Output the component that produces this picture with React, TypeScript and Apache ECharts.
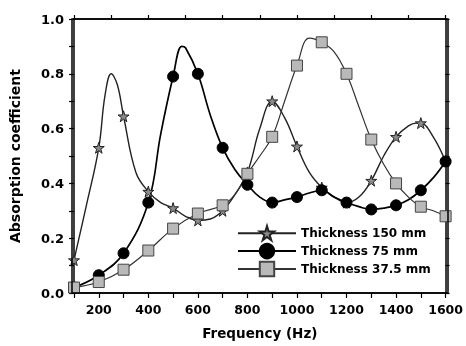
import React, { useEffect, useRef } from "react";
import * as echarts from "echarts";

// Frequency (Hz) and absorption coefficient
const freq150 = [100, 150, 200, 225, 250, 275, 300, 350, 400, 450, 500, 550, 600, 650, 700, 750, 800, 850, 900, 950, 1000, 1050, 1100, 1150, 1200, 1250, 1300, 1350, 1400, 1450, 1480, 1500, 1550, 1600];
const abs150 = [0.12, 0.32, 0.53, 0.72, 0.80, 0.76, 0.645, 0.44, 0.37, 0.33, 0.31, 0.28, 0.265, 0.27, 0.30, 0.36, 0.44, 0.60, 0.70, 0.64, 0.535, 0.44, 0.385, 0.35, 0.33, 0.35, 0.41, 0.50, 0.57, 0.61, 0.62, 0.62, 0.57, 0.48];

const freq75 = [100, 200, 300, 400, 450, 500, 535, 550, 600, 650, 700, 750, 800, 850, 900, 950, 1000, 1050, 1100, 1150, 1200, 1250, 1300, 1350, 1400, 1450, 1500, 1550, 1600];
const abs75 = [0.02, 0.065, 0.145, 0.33, 0.58, 0.79, 0.90, 0.895, 0.80, 0.65, 0.53, 0.45, 0.395, 0.35, 0.33, 0.34, 0.35, 0.365, 0.375, 0.35, 0.33, 0.315, 0.305, 0.31, 0.32, 0.34, 0.375, 0.42, 0.48];

const freq375 = [100, 200, 300, 400, 500, 600, 700, 750, 800, 850, 900, 950, 1000, 1050, 1100, 1150, 1200, 1250, 1300, 1350, 1400, 1450, 1500, 1550, 1600];
const abs375 = [0.02, 0.04, 0.085, 0.155, 0.235, 0.29, 0.32, 0.36, 0.435, 0.50, 0.57, 0.70, 0.83, 0.93, 0.915, 0.88, 0.80, 0.68, 0.56, 0.47, 0.40, 0.35, 0.315, 0.30, 0.28];

const seriesNames = ["Thickness 150 mm", "Thickness 75 mm", "Thickness 37.5 mm"];
const xTickLabels = [200, 400, 600, 800, 1000, 1200, 1400, 1600];
const yTickLabels = [0, 0.2, 0.4, 0.6, 0.8, 1.0];
const markerStep = 100;

const STAR = "path://M50,0 L61,35 L98,35 L68,57 L79,91 L50,70 L21,91 L32,57 L2,35 L39,35 Z";
const FONT = "DejaVu Sans";

// plot-area layout (pixels)
const G = { left: 72, right: 18, top: 19, bottom: 53 };
const W = 466;
const H = 346;

function buildData(fs: number[], vs: number[]) {
  return fs.map((f, i) =>
    f % markerStep === 0 ? { value: [f, vs[i]] } : { value: [f, vs[i]], symbol: "none" }
  );
}

const mkAxisLine = () => ({ show: true, onZero: false, lineStyle: { color: "#000", width: 1.5 } });
const mkTick = (len: number) => ({ show: true, length: len, lineStyle: { color: "#000", width: 1.2 } });

export default function App() {
  const ref = useRef<HTMLDivElement>(null);
  useEffect(() => {
    if (!ref.current) return;
    const chart = echarts.init(ref.current, undefined, { renderer: "svg" });
    const pw = W - G.left - G.right;
    const ph = H - G.top - G.bottom;
    chart.setOption({
      animation: false,
      grid: { left: G.left, right: G.right, top: G.top, bottom: G.bottom },
      graphic: [
        {
          type: "rect",
          z: 100,
          silent: true,
          shape: { x: G.left, y: G.top, width: pw, height: ph },
          style: { fill: "none", stroke: "#000", lineWidth: 1.5 },
        },
      ],
      legend: {
        orient: "vertical",
        left: 232,
        top: 220,
        itemWidth: 58,
        itemHeight: 18,
        itemGap: 1.5,
        data: seriesNames,
        textStyle: { fontFamily: FONT, fontWeight: "bold", fontSize: 12, color: "#000" },
      },
      xAxis: [
        {
          type: "value",
          min: 100,
          max: 1600,
          interval: 100,
          position: "bottom",
          name: "Frequency (Hz)",
          nameLocation: "middle",
          nameGap: 33,
          nameTextStyle: { fontFamily: FONT, fontWeight: "bold", fontSize: 13.5, color: "#000" },
          axisLine: mkAxisLine(),
          axisTick: mkTick(5),
          axisLabel: {
            customValues: xTickLabels,
            fontFamily: FONT,
            fontWeight: "bold",
            fontSize: 12.5,
            color: "#000",
            margin: 10,
            formatter: (v: number) => String(v),
          },
          splitLine: { show: false },
        },
        {
          type: "value",
          min: 0,
          max: 10,
          interval: 1,
          position: "top",
          axisLine: mkAxisLine(),
          axisTick: mkTick(4),
          axisLabel: { show: false },
          splitLine: { show: false },
        },
      ],
      yAxis: [
        {
          type: "value",
          min: 0,
          max: 1,
          interval: 0.1,
          position: "left",
          name: "Absorption coefficient",
          nameLocation: "middle",
          nameGap: 52,
          nameTextStyle: { fontFamily: FONT, fontWeight: "bold", fontSize: 14, color: "#000" },
          axisLine: mkAxisLine(),
          axisTick: mkTick(5),
          axisLabel: {
            customValues: yTickLabels,
            fontFamily: FONT,
            fontWeight: "bold",
            fontSize: 13,
            color: "#000",
            margin: 10,
            formatter: (v: number) => v.toFixed(1),
          },
          splitLine: { show: false },
        },
        {
          type: "value",
          min: 0,
          max: 1,
          interval: 0.1,
          position: "right",
          axisLine: mkAxisLine(),
          axisTick: mkTick(4),
          axisLabel: { show: false },
          splitLine: { show: false },
        },
      ],
      series: [
        {
          name: seriesNames[0],
          type: "line",
          smooth: 0.4,
          data: buildData(freq150, abs150),
          symbol: STAR,
          symbolSize: 11,
          showAllSymbol: true,
          lineStyle: { color: "#222", width: 1.4 },
          itemStyle: { color: "#8a8a8a", borderColor: "#222", borderWidth: 1 },
        },
        {
          name: seriesNames[1],
          type: "line",
          smooth: 0.4,
          data: buildData(freq75, abs75),
          symbol: "circle",
          symbolSize: 11,
          showAllSymbol: true,
          lineStyle: { color: "#000", width: 1.7 },
          itemStyle: { color: "#000", borderColor: "#000", borderWidth: 1 },
        },
        {
          name: seriesNames[2],
          type: "line",
          smooth: 0.4,
          data: buildData(freq375, abs375),
          symbol: "rect",
          symbolSize: 11,
          showAllSymbol: true,
          lineStyle: { color: "#333", width: 1.2 },
          itemStyle: { color: "#b9b9b9", borderColor: "#444", borderWidth: 1 },
        },
      ],
    });
    return () => chart.dispose();
  }, []);
  return <div ref={ref} style={{ position: "fixed", left: 0, top: 0, width: W, height: H }} />;
}
